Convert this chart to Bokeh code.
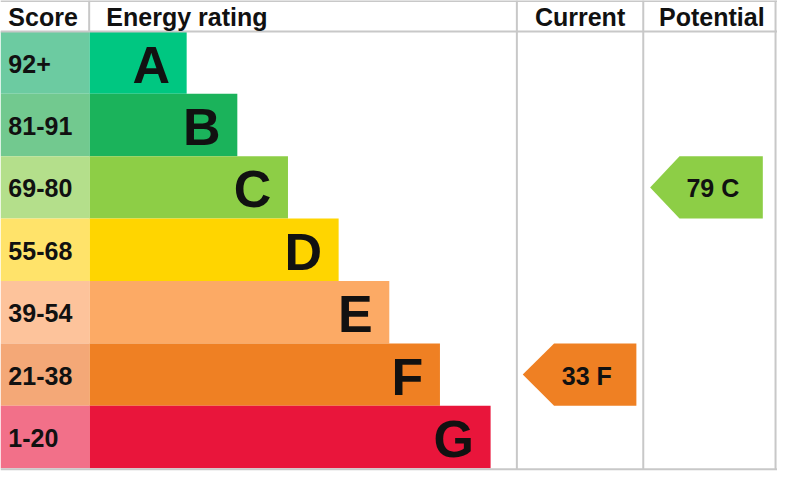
from bokeh.plotting import figure
from bokeh.models import Range1d
from bokeh.core.properties import value
from bokeh.embed import file_html
from bokeh.resources import INLINE

# ---- data ----
bands = ["A", "B", "C", "D", "E", "F", "G"]
score_ranges = ["92+", "81-91", "69-80", "55-68", "39-54", "21-38", "1-20"]
band_colors = ["#00c781", "#1bb35b", "#8dce46", "#ffd500", "#fcaa65", "#ef8023", "#e9153b"]
score_colors = ["#6ccba1", "#72c98f", "#b4df8b", "#ffe36a", "#fdc39b", "#f4a877", "#f27089"]
headers = ["Score", "Energy rating", "Current", "Potential"]
current_score = 33
current_band = "F"
potential_score = 79
potential_band = "C"

# ---- layout (reference pixel space) ----
W, H = 793, 489
FONT = value("Liberation Sans")
header_h = 32
row_h = 64.5
score_w = 91
bar0_end = 190
bar_step = 51.7
cur_col = (527, 656)
pot_col = (656, 791)

p = figure(width=777, height=473, x_range=Range1d(0, W), y_range=Range1d(H, 0),
           output_backend="svg", toolbar_location=None, min_border=0)
p.axis.visible = False
p.grid.visible = False
p.outline_line_color = None
p.background_fill_color = "white"
p.border_fill_color = "white"

n = len(bands)
tops = [header_h + row_h * i for i in range(n)]
bots = [t + row_h for t in tops]
mids = [t + row_h / 2 for t in tops]
ends = [bar0_end + bar_step * i for i in range(n)]

# score cells
p.quad(left=[0] * n, right=[score_w] * n, top=tops, bottom=bots,
       fill_color=score_colors, line_color=None)
# bars
p.quad(left=[score_w] * n, right=ends, top=tops, bottom=bots,
       fill_color=band_colors, line_color=None)

# grid lines
grid = "#c8c8c8"
total_bottom = bots[-1] + 1
p.segment(x0=[0, 0, 90.5, cur_col[0], cur_col[1], pot_col[1], 0],
          y0=[0.5, header_h, 0, 0, 0, 0, total_bottom],
          x1=[W, W, 90.5, cur_col[0], cur_col[1], pot_col[1], W],
          y1=[0.5, header_h, header_h, total_bottom, total_bottom, total_bottom, total_bottom],
          line_color=grid, line_width=2)

# header texts
p.text(x=[8, 108], y=[header_h / 2 + 1] * 2, text=headers[:2], text_font=FONT,
       text_font_style="bold", text_font_size="25px", text_baseline="middle",
       text_align="left", text_color="#111111")
p.text(x=[(cur_col[0] + cur_col[1]) / 2, 726], y=[header_h / 2 + 1] * 2, text=headers[2:],
       text_font=FONT, text_font_style="bold", text_font_size="25px",
       text_baseline="middle", text_align="center", text_color="#111111")

# score texts
p.text(x=[8] * n, y=[m + 1 for m in mids], text=score_ranges, text_font=FONT,
       text_font_style="bold", text_font_size="25px", text_baseline="middle",
       text_align="left", text_color="#111111")

# band letters
p.text(x=[e - 17 for e in ends], y=[m + 2 for m in mids], text=bands, text_font=FONT,
       text_font_style="bold", text_font_size="52px", text_baseline="middle",
       text_align="right", text_color="#111111")


def arrow(band, score, tip_x, body_x, right_x):
    i = bands.index(band)
    t, b, m = tops[i], bots[i], mids[i]
    xs = [tip_x, body_x, right_x, right_x, body_x]
    ys = [m, t, t, b, b]
    p.patch(xs, ys, fill_color=band_colors[i], line_color=None)
    p.text(x=[(body_x + right_x) / 2 - 5], y=[m + 1], text=[f"{score}  {band}"],
           text_font=FONT, text_font_style="bold", text_font_size="25px",
           text_baseline="middle", text_align="center", text_color="#111111")


arrow(current_band, current_score, 533, 565, 649)
arrow(potential_band, potential_score, 663, 693, 778)

open("out.html", "w").write(file_html(p, INLINE))
